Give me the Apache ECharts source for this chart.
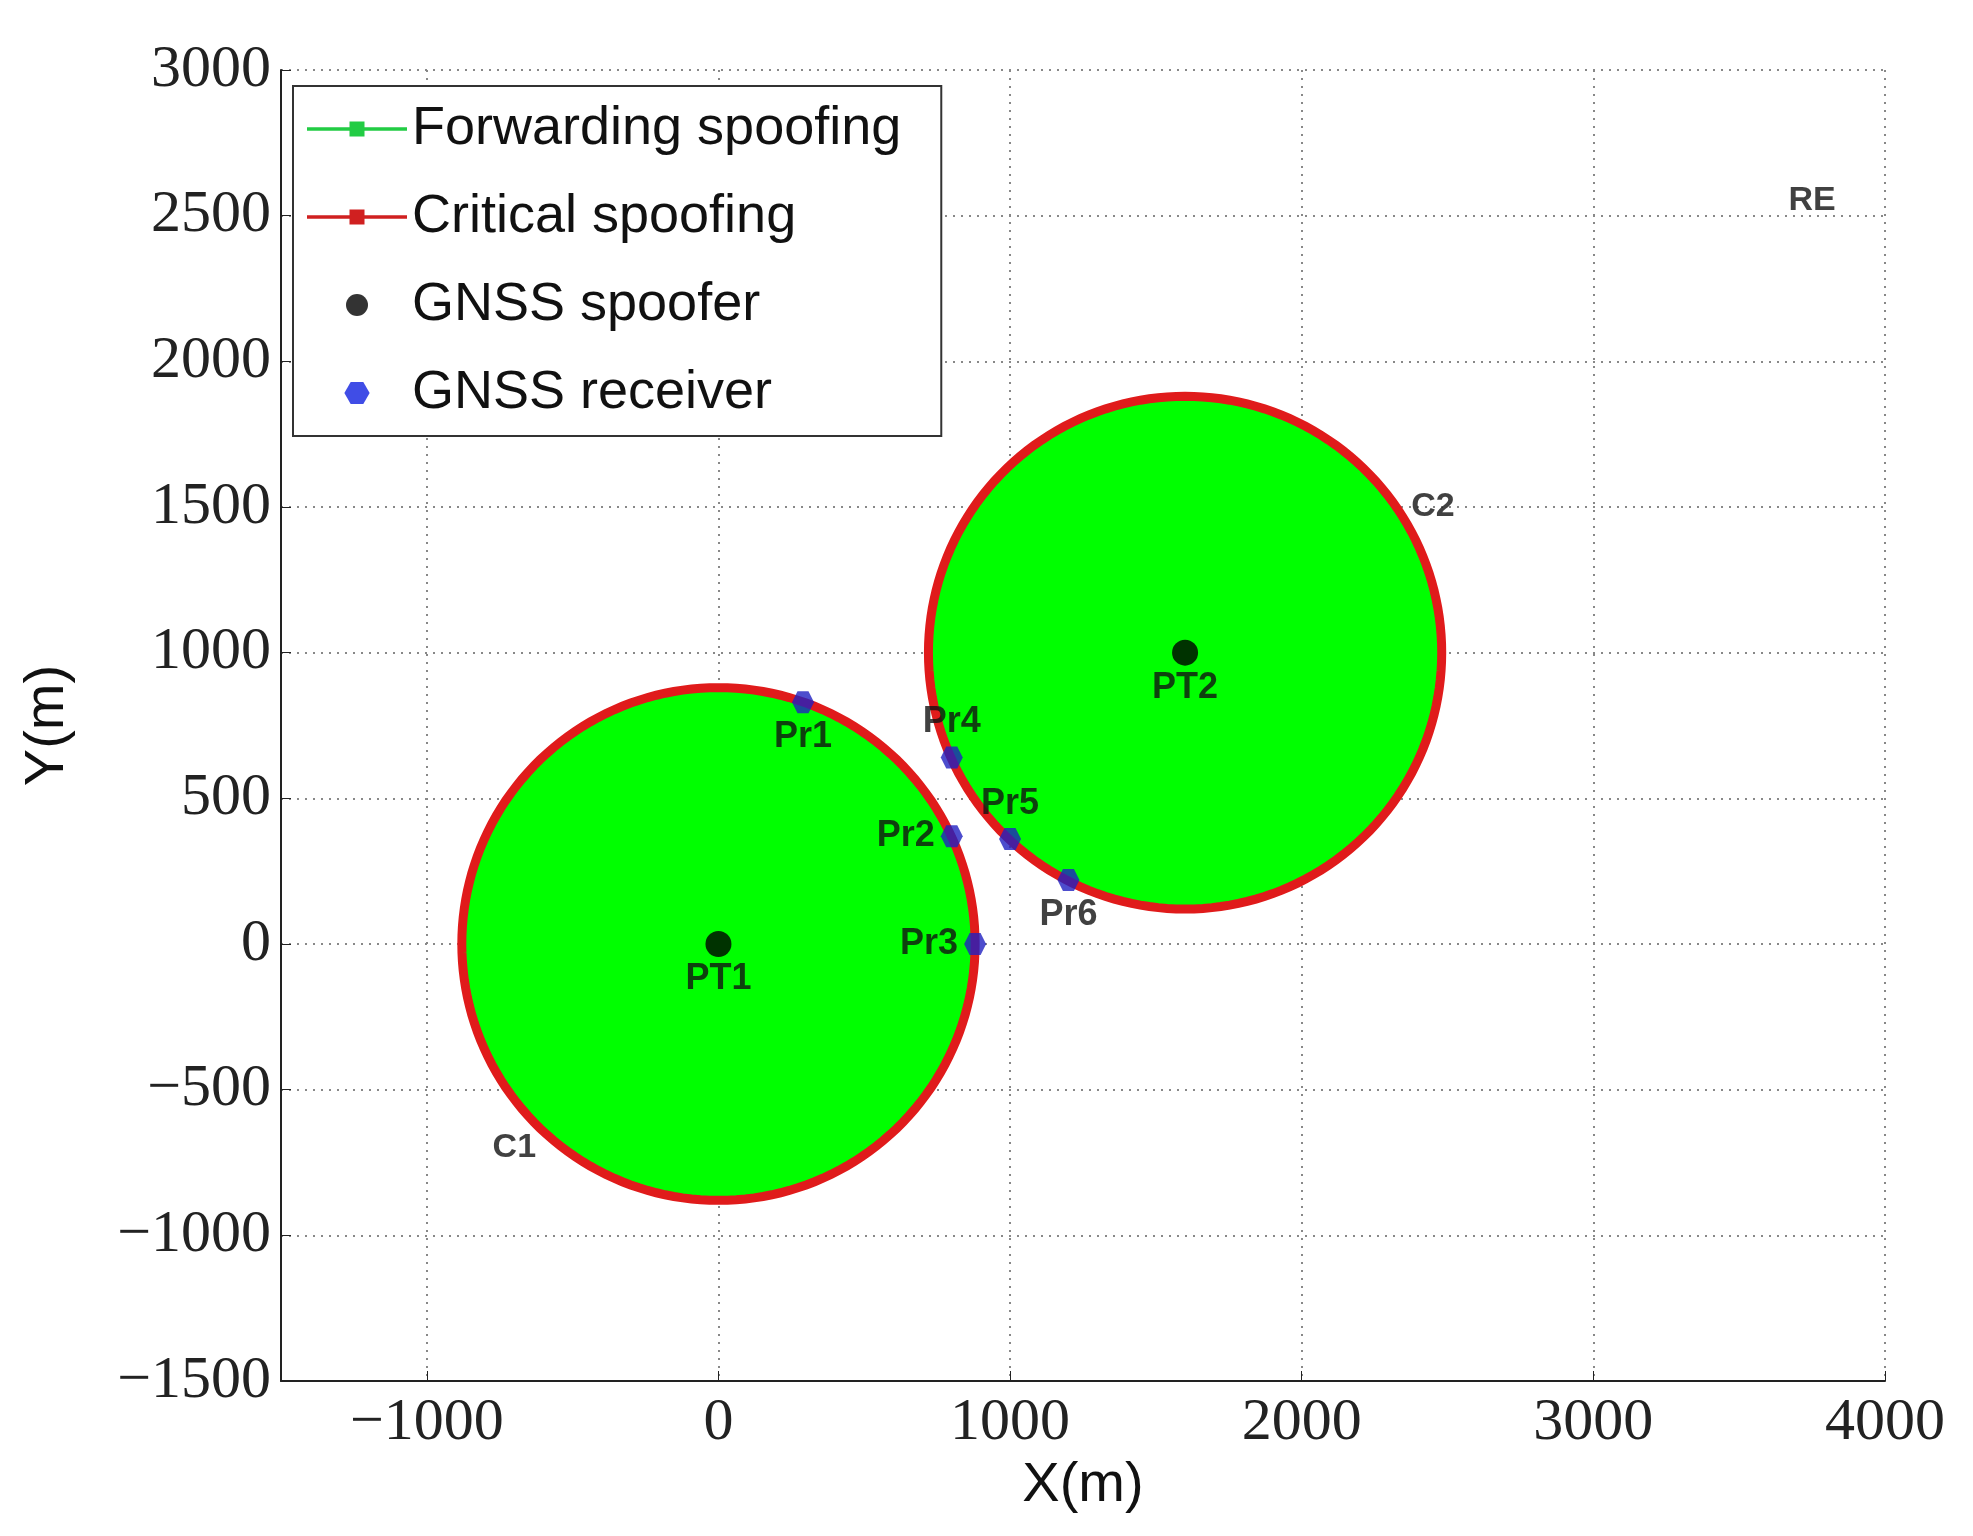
<!DOCTYPE html>
<html><head><meta charset="utf-8">
<script src="https://cdn.jsdelivr.net/npm/echarts@6/dist/echarts.min.js"></script>
<style>html,body{margin:0;background:#fff}#c{width:1973px;height:1536px}</style>
</head><body><div id="c"></div>
<script>
// circle centres / radii (m)
const circleNames = ['C1', 'C2'];
const circleCenters = [[0, 0], [1600, 1000]];
const circleRadii = [880, 880];
const circleLabelPos = [[-700, -700], [2450, 1500]];

const spoofers = [[0, 0, 'PT1'], [1600, 1000, 'PT2']];
const receivers = [
  [290, 830, 'Pr1', 'bottom'],
  [800, 370, 'Pr2', 'left'],
  [880, 0, 'Pr3', 'left'],
  [800, 640, 'Pr4', 'top'],
  [1000, 360, 'Pr5', 'top'],
  [1200, 220, 'Pr6', 'bottom']
];
const otherLabels = [[3750, 2550, 'RE']];
const xTicks = [-1000, 0, 1000, 2000, 3000, 4000];

const chart = echarts.init(document.getElementById('c'));
const serif = 'Liberation Serif';
const sans = 'Liberation Sans';
const hex = 'path://M-1,0 L-0.5,-0.87 L0.5,-0.87 L1,0 L0.5,0.87 L-0.5,0.87 Z';
const lineSq = 'path://M0,9.3 L40,9.3 L40,10.7 L0,10.7 Z M17,7 L23,7 L23,13 L17,13 Z';

function circleSeries(name, fill) {
  return {
    name: name, type: 'custom', z: fill ? 2 : 3,
    data: circleCenters.map((c, i) => [c[0], c[1], circleRadii[i]]),
    renderItem: function (params, api) {
      const cx = api.value(0), cy = api.value(1), r = api.value(2);
      const pts = [];
      for (let k = 0; k <= 180; k++) {
        const a = k / 180 * Math.PI * 2;
        pts.push(api.coord([cx + r * Math.cos(a), cy + r * Math.sin(a)]));
      }
      return {
        type: 'polygon', shape: { points: pts },
        style: fill ? { fill: '#00ff00', stroke: null } : { fill: null, stroke: '#e01b1b', lineWidth: 9 }
      };
    }
  };
}

chart.setOption({
  animation: false,
  grid: { left: 281, right: 88, top: 70, bottom: 155 },
  xAxis: {
    type: 'value', min: -1500, max: 4000,
    name: 'X(m)', nameLocation: 'middle', nameGap: 70,
    nameTextStyle: { fontFamily: sans, fontSize: 56, color: '#111' },
    axisLine: { onZero: false, lineStyle: { color: '#222', width: 2 } },
    axisTick: { inside: true, length: 10, customValues: xTicks, lineStyle: { color: '#222' } },
    axisLabel: { fontFamily: serif, fontSize: 60, color: '#222', margin: 12, customValues: xTicks,
      formatter: v => v < 0 ? '\u2212' + (-v) : v },
    splitLine: { lineStyle: { type: [2, 6], color: '#888', width: 2 } }
  },
  yAxis: {
    type: 'value', min: -1500, max: 3000, interval: 500,
    name: 'Y(m)', nameLocation: 'middle', nameGap: 205, nameRotate: 90,
    nameTextStyle: { fontFamily: sans, fontSize: 56, color: '#111' },
    axisLine: { show: true, onZero: false, lineStyle: { color: '#222', width: 2 } },
    axisTick: { show: true, inside: true, length: 10, lineStyle: { color: '#222' } },
    axisLabel: { fontFamily: serif, fontSize: 60, color: '#222', margin: 10,
      formatter: v => v < 0 ? '\u2212' + (-v) : v },
    splitLine: { lineStyle: { type: [2, 6], color: '#888', width: 2 } }
  },
  legend: {
    orient: 'vertical', left: 293, top: 86, padding: [16, 40, 16, 14],
    itemGap: 34, itemWidth: 100, itemHeight: 22,
    backgroundColor: '#fff', borderColor: '#333', borderWidth: 2,
    textStyle: { fontFamily: sans, fontSize: 54, color: '#111' },
    data: [
      { name: 'Forwarding spoofing', icon: lineSq, itemStyle: { color: '#22cc44' } },
      { name: 'Critical spoofing', icon: lineSq, itemStyle: { color: '#d02020' } },
      { name: 'GNSS spoofer', icon: 'path://M0,0 m-1,0 a1,1 0 1,0 2,0 a1,1 0 1,0 -2,0', itemStyle: { color: '#000' } },
      { name: 'GNSS receiver', icon: hex, itemStyle: { color: '#1020e0' } }
    ]
  },
  series: [
    circleSeries('Forwarding spoofing', true),
    circleSeries('Critical spoofing', false),
    {
      name: 'GNSS spoofer', type: 'scatter', z: 5, symbolSize: 26,
      itemStyle: { color: '#000' },
      data: spoofers.map(p => ({ value: [p[0], p[1]], label: { formatter: p[2] } })),
      label: { show: true, position: 'bottom', distance: 4, fontFamily: sans, fontWeight: 'bold', fontSize: 36, color: '#111' }
    },
    {
      name: 'GNSS receiver', type: 'scatter', z: 6, symbolSize: 22, symbol: hex,
      itemStyle: { color: '#2020c0' },
      data: receivers.map(p => ({ value: [p[0], p[1]], label: { formatter: p[2], position: p[3] } })),
      label: { show: true, distance: 6, fontFamily: sans, fontWeight: 'bold', fontSize: 36, color: '#111' }
    },
    {
      name: 'labels', type: 'scatter', symbolSize: 0, z: 7,
      data: circleLabelPos.map((p, i) => ({ value: p, label: { formatter: circleNames[i] } }))
        .concat(otherLabels.map(p => ({ value: [p[0], p[1]], label: { formatter: p[2] } }))),
      label: { show: true, position: 'inside', fontFamily: sans, fontWeight: 'bold', fontSize: 34, color: '#111' }
    }
  ]
});
</script></body></html>
